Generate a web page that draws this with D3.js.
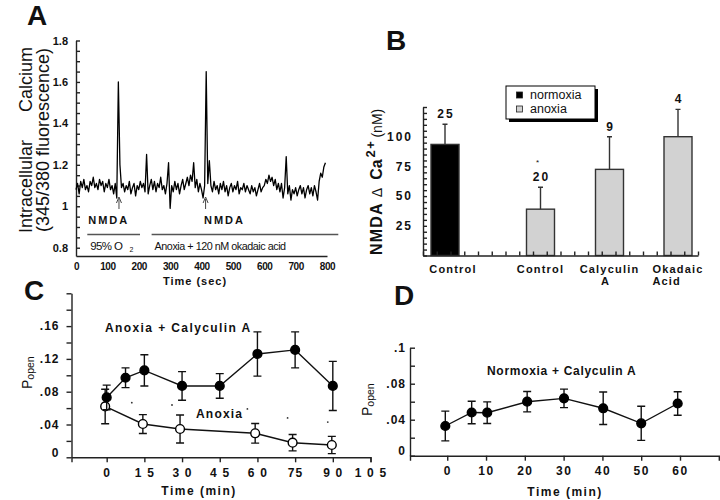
<!DOCTYPE html>
<html lang="en">
<head>
<meta charset="UTF-8">
<title>NMDA receptor calcium and open probability</title>
<script src="https://d3js.org/d3.v7.min.js"></script>
<style>
  body { margin: 0; background: #fff; font-family: Arial, "Liberation Sans", sans-serif; }
  svg text { fill: #111; }
  .panel-letter { font-size: 28px; font-weight: bold; }
  .axis path, .axis line { stroke: #222; stroke-width: 1.4; }
  .bold-lbl { font-weight: bold; }
</style>
</head>
<body>
<div id="chart"></div>
<script>
// ---------- panel A: fura-2 trace ----------
const traceStepSec = 5;
const calciumTrace = [
  1.08, 1.11, 1.06, 1.12, 1.09, 1.13, 1.08, 1.10, 1.07, 1.12,
  1.10, 1.14, 1.09, 1.11, 1.08, 1.13, 1.10, 1.12, 1.07, 1.11,
  1.09, 1.13, 1.08, 1.10, 1.06, 1.11, 1.04, 1.60, 1.20, 1.09,
  1.11, 1.07, 1.10, 1.08, 1.12, 1.06, 1.09, 1.11, 1.05, 1.10,
  1.08, 1.12, 1.09, 1.11, 1.07, 1.25, 1.06, 1.10, 1.13, 1.08,
  1.12, 1.07, 1.11, 1.09, 1.14, 1.08, 1.10, 1.06, 1.11, 1.21,
  0.99, 1.10, 1.07, 1.12, 1.08, 1.11, 1.06, 1.10, 1.13, 1.08,
  1.11, 1.14, 1.10, 1.15, 1.12, 1.21, 1.09, 1.13, 1.07, 1.11,
  1.08, 1.04, 1.10, 1.65, 1.11, 1.22, 1.10, 1.07, 1.12, 1.08,
  1.10, 1.06, 1.11, 1.08, 1.12, 1.07, 1.10, 1.05, 1.09, 1.11,
  1.07, 1.10, 1.08, 1.12, 1.06, 1.09, 1.08, 1.11, 1.07, 1.10,
  1.08, 1.06, 1.10, 1.07, 1.09, 1.05, 1.08, 1.11, 1.07, 1.09,
  1.10, 1.13, 1.11, 1.15, 1.12, 1.14, 1.10, 1.13, 1.08, 1.11,
  1.07, 1.11, 1.04, 1.09, 1.24, 1.06, 1.10, 1.03, 1.08, 1.06,
  1.09, 1.05, 1.08, 1.10, 1.06, 1.09, 1.04, 1.08, 1.10, 1.06,
  1.09, 1.05, 1.10, 1.07, 1.03, 1.12, 1.16, 1.14, 1.19, 1.21
];
const nmdaTimes = [137, 413];
const nmdaLabelTimes = [39, 408];
const conditionLabels = ["95% O", "Anoxia + 120 nM okadaic acid"];
const conditionStart = [36, 241];
const conditionEnd = [204, 836];
const aYTickValues = [0.8, 1, 1.2, 1.4, 1.6, 1.8];
const aYTickLabels = ["0.8", "1", "1.2", "1.4", "1.6", "1.8"];
const aXTickValues = [0, 100, 200, 300, 400, 500, 600, 700, 800];

// ---------- panel B: bars ----------
const bKeys = ["ctrlNormoxia", "ctrlAnoxia", "calyculin", "okadaic"];
const bLabelLines = [["Control"], ["Control"], ["Calyculin", "A"], ["Okadaic", "Acid"]];
const bGroups = ["normoxia", "anoxia", "anoxia", "anoxia"];
const bMeans = [93.5, 39, 72.5, 100];
const bErrors = [17, 18.5, 27.5, 23];
const bCounts = ["25", "20", "9", "4"];
const bSignificant = [false, true, false, false];
const bYTickValues = [25, 50, 75, 100];
const bLegend = ["normoxia", "anoxia"];

// ---------- panel C ----------
const cCalyTimes = [0, 7.5, 15, 30, 45, 60, 75, 90];
const cCalyMeans = [0.073, 0.097, 0.106, 0.087, 0.087, 0.126, 0.131, 0.087];
const cCalyErrors = [0.015, 0.012, 0.019, 0.0175, 0.015, 0.027, 0.022, 0.03];
const cAnoxTimes = [-0.6, 14.4, 29.2, 59.1, 74, 89.6];
const cAnoxMeans = [0.062, 0.0406, 0.0345, 0.0293, 0.0178, 0.015];
const cAnoxErrors = [0.021, 0.0115, 0.017, 0.012, 0.01, 0.0105];
const cSigTimes = [10, 26, 56, 72, 88];
const cSigValues = [0.0666, 0.0638, 0.059, 0.048, 0.043];
const cXTickValues = [0, 15, 30, 45, 60, 75, 90, 105];
const cXTickLabels = ["0", "1 5", "3 0", "4 5", "6 0", "75", "9 0", "1 0 5"];
const cYTickValues = [0, 0.04, 0.08, 0.12, 0.16];
const cYTickLabels = ["0", ".04", ".08", ".12", ".16"];

// ---------- panel D ----------
const dTimes = [-0.5, 6.3, 10.3, 20.6, 30.1, 40.2, 50, 59.4];
const dMeans = [0.033, 0.048, 0.0478, 0.06, 0.0637, 0.0527, 0.036, 0.058];
const dErrors = [0.0165, 0.0125, 0.012, 0.0113, 0.0103, 0.018, 0.019, 0.013];
const dXTickValues = [0, 10, 20, 30, 40, 50, 60];
const dYTickValues = [0, 0.04, 0.08, 0.12];
const dYTickLabels = ["0", ".04", ".08", ".1"];

const svg = d3.select("#chart").append("svg")
  .attr("width", 720)
  .attr("height", 500);

function labelFor(values, labels) {
  return d => {
    const i = values.findIndex(v => Math.abs(v - d) < 1e-6);
    return i < 0 ? "" : labels[i];
  };
}

function styleTicks(g, size, spacing) {
  g.attr("font-family", null).attr("font-size", null);
  g.selectAll("text")
    .attr("font-size", size)
    .attr("font-weight", "bold")
    .attr("letter-spacing", spacing)
    .attr("fill", "#111");
}

// ================= A =================
const xA = d3.scaleLinear().domain([0, 800]).range([76, 327]);
const yA = d3.scaleLinear().domain([0.76, 1.8]).range([256, 40.5]);

svg.append("text").attr("class", "panel-letter").attr("x", 27).attr("y", 25).text("A");

svg.append("g").attr("class", "axis")
  .attr("transform", "translate(76,0)")
  .call(d3.axisLeft(yA).tickValues(yA.ticks(20)).tickSize(-4).tickSizeOuter(0)
    .tickPadding(8).tickFormat(labelFor(aYTickValues, aYTickLabels)))
  .call(g => styleTicks(g, 11, 0));

svg.append("g").attr("class", "axis")
  .attr("transform", "translate(0,256)")
  .call(d3.axisBottom(xA).tickValues(aXTickValues).tickSize(0).tickPadding(7))
  .call(g => styleTicks(g, 10, -0.4));

svg.append("path")
  .datum(calciumTrace)
  .attr("fill", "none")
  .attr("stroke", "#000")
  .attr("stroke-width", 1.3)
  .attr("stroke-linejoin", "round")
  .attr("d", d3.line().x((d, i) => xA(i * traceStepSec)).y(d => yA(d)));

// NMDA arrows
nmdaTimes.forEach((t, i) => {
  const x = xA(t);
  svg.append("line").attr("x1", x).attr("x2", x).attr("y1", 199).attr("y2", 209)
    .attr("stroke", "#444").attr("stroke-width", 1);
  svg.append("path").attr("d", `M${x - 2.5},${203} L${x},${197} L${x + 2.5},${203}`)
    .attr("fill", "none").attr("stroke", "#444").attr("stroke-width", 1);
  svg.append("text").attr("class", "bold-lbl")
    .attr("x", xA(nmdaLabelTimes[i])).attr("y", 224)
    .attr("font-size", 11).attr("letter-spacing", 2)
    .text("NMDA");
});

// condition bars
conditionLabels.forEach((lbl, i) => {
  svg.append("line")
    .attr("x1", xA(conditionStart[i])).attr("x2", xA(conditionEnd[i]))
    .attr("y1", 234.5).attr("y2", 234.5)
    .attr("stroke", "#555").attr("stroke-width", 1.4);
  const t = svg.append("text")
    .attr("x", xA(conditionStart[i]) + 3).attr("y", 250)
    .attr("font-size", 11.5).attr("fill", "#222");
  if (i === 0) {
    t.append("tspan").attr("letter-spacing", -0.6).text(lbl);
    t.append("tspan").attr("font-size", 7).attr("dx", 7).attr("dy", 2).text("2");
  } else {
    t.attr("textLength", 131).attr("lengthAdjust", "spacingAndGlyphs")
      .attr("letter-spacing", -0.5).text(lbl);
  }
});

svg.append("text").attr("class", "bold-lbl")
  .attr("x", 195).attr("y", 285).attr("text-anchor", "middle")
  .attr("font-size", 11).attr("letter-spacing", 1)
  .text("Time (sec)");

svg.append("text").attr("transform", "translate(32,233) rotate(-90)")
  .attr("font-size", 18).attr("fill", "#222").text("Intracellular");
svg.append("text").attr("transform", "translate(32,47) rotate(-90)")
  .attr("text-anchor", "end").attr("font-size", 18).attr("fill", "#222").text("Calcium");
svg.append("text").attr("transform", "translate(49,140) rotate(-90)")
  .attr("text-anchor", "middle").attr("font-size", 18).attr("fill", "#222")
  .text("(345/380 fluorescence)");

// ================= B =================
const yB = d3.scaleLinear().domain([0, 125]).range([255.5, 107]);
const xBTicks = d3.scaleLinear().domain([0, 20]).range([423, 698]);
const xB = d3.scaleOrdinal().domain(bKeys).range([445, 540.5, 609.5, 678]);
const bFill = d3.scaleOrdinal().domain(bLegend).range(["#000", "#d2d2d2"]);
const barW = 28;

svg.append("text").attr("class", "panel-letter").attr("x", 386).attr("y", 50).text("B");

const bars = bKeys.map((k, i) => ({
  key: k, mean: bMeans[i], err: bErrors[i], n: bCounts[i],
  group: bGroups[i], lines: bLabelLines[i], sig: bSignificant[i]
}));

svg.selectAll(".bar").data(bars).enter().append("rect")
  .attr("class", "bar")
  .attr("x", d => xB(d.key) - barW / 2)
  .attr("y", d => yB(d.mean))
  .attr("width", barW)
  .attr("height", d => yB(0) - yB(d.mean))
  .attr("fill", d => bFill(d.group))
  .attr("stroke", "#333")
  .attr("stroke-width", 1.4);

svg.selectAll(".bar-err").data(bars).enter().append("path")
  .attr("class", "bar-err")
  .attr("fill", "none").attr("stroke", "#333").attr("stroke-width", 1.4)
  .attr("d", d => {
    const x = xB(d.key), y0 = yB(d.mean), y1 = yB(d.mean + d.err);
    return `M${x},${y0}V${y1}M${x - 2.5},${y1}H${x + 2.5}`;
  });

svg.selectAll(".bar-n").data(bars).enter().append("text")
  .attr("class", "bold-lbl")
  .attr("x", d => xB(d.key) + 1)
  .attr("y", d => yB(d.mean + d.err) - 6)
  .attr("text-anchor", "middle")
  .attr("font-size", 12).attr("letter-spacing", 2)
  .text(d => d.n);

svg.selectAll(".bar-sig").data(bars.filter(d => d.sig)).enter().append("text")
  .attr("x", d => xB(d.key) - 3)
  .attr("y", d => yB(d.mean + d.err) - 22)
  .attr("text-anchor", "middle").attr("font-size", 8)
  .text("*");

svg.append("g").attr("class", "axis")
  .attr("transform", "translate(423,0)")
  .call(d3.axisLeft(yB).tickValues(yB.ticks(25)).tickSize(-4).tickSizeOuter(0)
    .tickPadding(10).tickFormat(labelFor(bYTickValues, bYTickValues.map(String))))
  .call(g => styleTicks(g, 12, 2));

svg.append("g").attr("class", "axis")
  .attr("transform", "translate(0,255.5)")
  .call(d3.axisBottom(xBTicks).ticks(20).tickSize(-4).tickSizeOuter(0).tickFormat(""));

bars.forEach((d, i) => {
  const x = xB(d.key);
  const first = svg.append("text").attr("class", "bold-lbl")
    .attr("x", x).attr("dx", i === 0 ? 8 : 0).attr("y", 272.5).attr("text-anchor", "middle")
    .attr("font-size", 11).attr("letter-spacing", 1.2)
    .text(d.lines[0]);
  if (d.lines[1]) {
    const bb = first.node().getBBox();
    const alignLeft = i === 3;
    svg.append("text").attr("class", "bold-lbl")
      .attr("x", alignLeft ? bb.x : x - 4).attr("y", 285)
      .attr("text-anchor", alignLeft ? "start" : "middle")
      .attr("font-size", 11).attr("letter-spacing", 1.2)
      .text(d.lines[1]);
  }
});

// legend
svg.append("rect").attr("x", 509).attr("y", 89).attr("width", 89).attr("height", 33).attr("fill", "#000");
svg.append("rect").attr("x", 506).attr("y", 86).attr("width", 89).attr("height", 33)
  .attr("fill", "#fff").attr("stroke", "#000").attr("stroke-width", 1);
bLegend.forEach((g, i) => {
  svg.append("rect").attr("x", 516.5).attr("y", 92 + i * 14).attr("width", 6).attr("height", 6)
    .attr("fill", bFill(g)).attr("stroke", "#222").attr("stroke-width", 0.8);
  svg.append("text").attr("x", 530).attr("y", 98.5 + i * 14)
    .attr("font-size", 12.5).attr("fill", "#111").text(g);
});

const bYLabel = svg.append("text").attr("transform", "translate(382,255) rotate(-90)");
bYLabel.append("tspan").attr("font-weight", "bold").attr("font-size", 16).attr("letter-spacing", 1.2).text("NMDA");
bYLabel.append("tspan").attr("font-size", 14).attr("dx", 5).text("\u0394");
bYLabel.append("tspan").attr("font-weight", "bold").attr("font-size", 16).attr("dx", 8).text("Ca");
bYLabel.append("tspan").attr("font-weight", "bold").attr("font-size", 13).attr("letter-spacing", 1.5)
  .attr("dx", 2).attr("dy", -7).text("2+");
bYLabel.append("tspan").attr("font-size", 14).attr("dx", 2).attr("dy", 7).text("(nM)");

// ================= C and D helpers =================
function drawSeries(g, x, y, times, means, errs, filled) {
  const pts = times.map((t, i) => ({ t, m: means[i], e: errs[i] }));
  g.append("path").datum(pts)
    .attr("fill", "none").attr("stroke", "#111").attr("stroke-width", 1.4)
    .attr("d", d3.line().x(d => x(d.t)).y(d => y(d.m)));
  g.selectAll(null).data(pts).enter().append("path")
    .attr("fill", "none").attr("stroke", "#111").attr("stroke-width", 1.4)
    .attr("d", d => {
      const cx = x(d.t), lo = y(d.m - d.e), hi = y(d.m + d.e);
      return `M${cx},${lo}V${hi}M${cx - 4},${hi}H${cx + 4}M${cx - 4},${lo}H${cx + 4}`;
    });
  g.selectAll(null).data(pts).enter().append("circle")
    .attr("cx", d => x(d.t)).attr("cy", d => y(d.m))
    .attr("r", 4.4)
    .attr("fill", filled ? "#000" : "#fff")
    .attr("stroke", "#000").attr("stroke-width", 1.4);
}

function pOpenLabel(x, y) {
  const t = svg.append("text").attr("transform", `translate(${x},${y}) rotate(-90)`).attr("fill", "#222");
  t.append("tspan").attr("font-size", 14).text("P");
  t.append("tspan").attr("font-size", 10.5).attr("dy", 2).text("open");
}

// ================= C =================
const xC = d3.scaleLinear().domain([-14, 105]).range([71.5, 370.5]);
const yC = d3.scaleLinear().domain([0, 0.2]).range([457.3, 293.3]);

svg.append("text").attr("class", "panel-letter").attr("x", 24).attr("y", 300).text("C");

svg.append("g").attr("class", "axis")
  .attr("transform", "translate(71.5,0)")
  .call(d3.axisLeft(yC).tickValues(yC.ticks(10)).tickSize(5).tickSizeOuter(0)
    .tickPadding(7).tickFormat(labelFor(cYTickValues, cYTickLabels)))
  .call(g => styleTicks(g, 12, 1))
  .call(g => g.selectAll(".tick text").filter(d => d === 0).attr("dy", "-0.1em"));

svg.append("g").attr("class", "axis")
  .attr("transform", "translate(0,457.3)")
  .call(d3.axisBottom(xC).tickValues(cXTickValues).tickSize(5).tickSizeOuter(5)
    .tickPadding(6).tickFormat(labelFor(cXTickValues, cXTickLabels)))
  .call(g => styleTicks(g, 12, 1.2));

const gC = svg.append("g");
drawSeries(gC, xC, yC, cAnoxTimes, cAnoxMeans, cAnoxErrors, false);
drawSeries(gC, xC, yC, cCalyTimes, cCalyMeans, cCalyErrors, true);

gC.selectAll(".sig").data(cSigTimes).enter().append("circle")
  .attr("class", "sig")
  .attr("cx", d => xC(d)).attr("cy", (d, i) => yC(cSigValues[i]))
  .attr("r", 0.9).attr("fill", "#333");

svg.append("text").attr("class", "bold-lbl").attr("x", 105).attr("y", 331.5)
  .attr("font-size", 12).attr("letter-spacing", 1.4).text("Anoxia + Calyculin A");
svg.append("text").attr("class", "bold-lbl").attr("x", 196).attr("y", 417.5)
  .attr("font-size", 12).attr("letter-spacing", 1.2).text("Anoxia");

svg.append("text").attr("class", "bold-lbl")
  .attr("x", 199).attr("y", 495).attr("text-anchor", "middle")
  .attr("font-size", 12).attr("letter-spacing", 1.5).text("Time (min)");
pOpenLabel(32, 389);

// ================= D =================
const xD = d3.scaleLinear().domain([-9.6, 70]).range([410, 718.8]);
const yD = d3.scaleLinear().domain([0, 0.12]).range([455.7, 347.7]);

svg.append("text").attr("class", "panel-letter").attr("x", 394).attr("y", 305).text("D");

svg.append("g").attr("class", "axis")
  .attr("transform", "translate(410,0)")
  .call(d3.axisLeft(yD).tickValues(yD.ticks(6)).tickSize(-5).tickSizeOuter(0)
    .tickPadding(4).tickFormat(labelFor(dYTickValues, dYTickLabels)))
  .call(g => styleTicks(g, 12, 1))
  .call(g => g.selectAll(".tick text").filter(d => d === 0).attr("dy", "-0.1em"));

svg.append("g").attr("class", "axis")
  .attr("transform", "translate(0,455.7)")
  .call(d3.axisBottom(xD).tickValues(dXTickValues).tickSize(5).tickSizeOuter(5)
    .tickPadding(6).tickFormat(d3.format("d")))
  .call(g => styleTicks(g, 12, 1.5));

const gD = svg.append("g");
drawSeries(gD, xD, yD, dTimes, dMeans, dErrors, true);

svg.append("text").attr("class", "bold-lbl").attr("x", 487).attr("y", 375)
  .attr("font-size", 12).attr("letter-spacing", 0.7).text("Normoxia + Calyculin A");

svg.append("text").attr("class", "bold-lbl")
  .attr("x", 565).attr("y", 496).attr("text-anchor", "middle")
  .attr("font-size", 12).attr("letter-spacing", 1.5).text("Time (min)");
pOpenLabel(372, 416);
</script>
</body>
</html>
